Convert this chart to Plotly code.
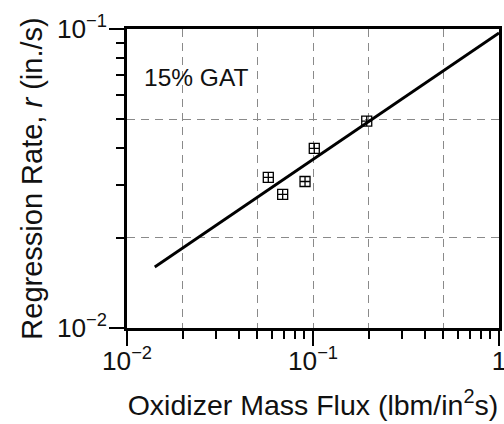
import plotly.graph_objects as go

# Measured data (oxidizer mass flux, regression rate)
flux = [0.0575, 0.0687, 0.0906, 0.1016, 0.1945]
rate = [0.0319, 0.0280, 0.0309, 0.0399, 0.0492]

# Fit line endpoints
fit_flux = [0.0141, 1.0]
fit_rate = [0.0160, 0.0970]

grid_x = [0.02, 0.05, 0.1, 0.2, 0.5]
grid_y = [0.02, 0.05]

FONT = "Arial, Liberation Sans, Helvetica, sans-serif"

fig = go.Figure()
fig.add_trace(go.Scatter(x=fit_flux, y=fit_rate, mode="lines",
                         line=dict(color="black", width=2.8),
                         showlegend=False, hoverinfo="skip"))
fig.add_trace(go.Scatter(x=flux, y=rate, mode="markers",
                         marker=dict(symbol="square-cross-open", size=10,
                                     color="black", line=dict(width=1.3, color="black")),
                         showlegend=False))
# invisible trace on the grid overlay axes
fig.add_trace(go.Scatter(x=[flux[0]], y=[rate[0]], xaxis="x2", yaxis="y2",
                         mode="markers", marker=dict(opacity=0), showlegend=False,
                         hoverinfo="skip"))

axis_common = dict(type="log", showline=True, linewidth=2.5, linecolor="black",
                   mirror=True, ticks="outside", ticklen=15, tickwidth=2,
                   tickcolor="black", showgrid=False, zeroline=False,
                   exponentformat="power", dtick=1, automargin=False,
                   ticklabeloverflow="allow",
                   tickfont=dict(family=FONT, size=21, color="#111"),
                   minor=dict(ticks="outside", ticklen=8, tickwidth=2,
                              tickcolor="black", dtick="D1", showgrid=False))

fig.update_layout(
    width=504, height=424,
    margin=dict(l=127, r=5, t=29, b=96),
    paper_bgcolor="white", plot_bgcolor="white",
    font=dict(family=FONT, color="#111"),
    xaxis=dict(range=[-2, 0], **axis_common, ticklabelstandoff=-6,
               title=dict(text="Oxidizer Mass Flux (lbm/in<sup>2</sup>s)",
                          font=dict(family=FONT, size=28.5), standoff=20)),
    yaxis=dict(range=[-2, -1], **axis_common, ticklabelstandoff=-2,
               title=dict(text="Regression Rate, <i>r</i> (in./s)",
                          font=dict(family=FONT, size=29), standoff=6)),
    xaxis2=dict(type="log", overlaying="x", matches="x", range=[-2, 0],
                tickvals=grid_x, showticklabels=False, ticks="",
                showgrid=True, gridcolor="#8a8a8a", gridwidth=1,
                griddash="8px,6px", showline=False, zeroline=False),
    yaxis2=dict(type="log", overlaying="y", matches="y", range=[-2, -1],
                tickvals=grid_y, showticklabels=False, ticks="",
                showgrid=True, gridcolor="#8a8a8a", gridwidth=1,
                griddash="8px,6px", showline=False, zeroline=False),
    annotations=[dict(text="15% GAT", xref="paper", yref="paper",
                      x=0.04, y=0.837, xanchor="left", yanchor="middle",
                      showarrow=False, font=dict(family=FONT, size=24.5, color="#111"))],
)

# remove the default page margin so the figure sits at the window's top-left corner
fig.write_html("out.html", config={"displayModeBar": False},
               post_script="document.body.style.margin='0';document.body.style.overflow='hidden';")
